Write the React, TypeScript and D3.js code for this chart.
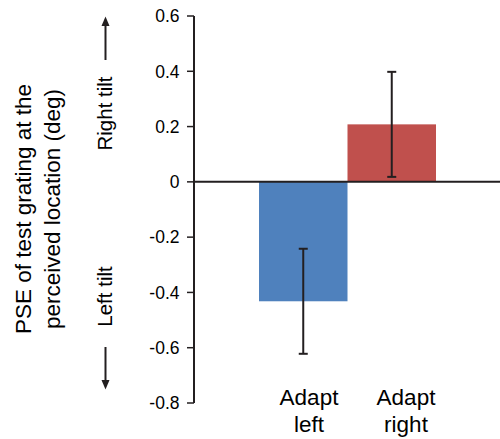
import React from "react";
import * as d3 from "d3";

const categories = ["Adapt left", "Adapt right"];
const labelLines = [["Adapt", "left"], ["Adapt", "right"]];
const values = [-0.432, 0.208];
const errors = [0.19, 0.19];
const colors = ["#4F81BD", "#C0504D"];
const yTicks = [0.6, 0.4, 0.2, 0, -0.2, -0.4, -0.6, -0.8];
const yTickLabels = ["0.6", "0.4", "0.2", "0", "-0.2", "-0.4", "-0.6", "-0.8"];
const yTitle = ["PSE of test grating at the", "perceived location (deg)"];
const dirLabels = ["Right tilt", "Left tilt"];

const W = 500;
const H = 439;
const FONT = "'Liberation Sans', Arial, Helvetica, sans-serif";
const INK = "#231f20";

export default function App() {
  const y = d3.scaleLinear().domain([-0.8, 0.6]).range([403, 16]);
  const x = d3.scaleBand<string>().domain(categories).range([259, 436]).paddingInner(0).paddingOuter(0);
  const xl = d3.scalePoint<string>().domain(categories).range([309, 406]);
  const axisX = 194;
  const cap = 4.5;

  return (
    <svg
      width={W}
      height={H}
      style={{ position: "absolute", left: 0, top: 0, background: "#fff" }}
      fontFamily={FONT}
    >
      {/* bars */}
      {categories.map((c, i) => (
        <rect
          key={c}
          x={x(c)}
          width={x.bandwidth()}
          y={Math.min(y(values[i]), y(0))}
          height={Math.abs(y(values[i]) - y(0))}
          fill={colors[i]}
        />
      ))}
      {/* error bars */}
      {categories.map((c, i) => {
        const cx = (x(c) as number) + x.bandwidth() / 2;
        const y1 = y(values[i] + errors[i]);
        const y2 = y(values[i] - errors[i]);
        return (
          <g key={c + "e"} stroke={INK} strokeWidth={2}>
            <line x1={cx} x2={cx} y1={y1} y2={y2} />
            <line x1={cx - cap} x2={cx + cap} y1={y1} y2={y1} />
            <line x1={cx - cap} x2={cx + cap} y1={y2} y2={y2} />
          </g>
        );
      })}
      {/* zero line */}
      <line x1={axisX} x2={W} y1={y(0)} y2={y(0)} stroke={INK} strokeWidth={2} />
      {/* y axis */}
      <line x1={axisX} x2={axisX} y1={y(0.6)} y2={y(-0.8)} stroke={INK} strokeWidth={2} />
      {yTicks.map((t, i) => (
        <g key={t}>
          <line x1={axisX - 7} x2={axisX} y1={y(t)} y2={y(t)} stroke={INK} strokeWidth={1.5} />
          <text x={179.5} y={y(t)} dy="0.36em" textAnchor="end" fontSize={17.5} fill="#000">
            {yTickLabels[i]}
          </text>
        </g>
      ))}
      {/* category labels */}
      {categories.map((c, i) => (
        <text key={c + "l"} x={xl(c)} textAnchor="middle" fontSize={22.5} fill="#000">
          <tspan x={xl(c)} y={405}>{labelLines[i][0]}</tspan>
          <tspan x={xl(c)} y={432}>{labelLines[i][1]}</tspan>
        </text>
      ))}
      {/* y title */}
      <text transform="translate(31,209) rotate(-90)" textAnchor="middle" fontSize={22.5} fill="#000">
        {yTitle[0]}
      </text>
      <text transform="translate(60,209) rotate(-90)" textAnchor="middle" fontSize={22.5} fill="#000">
        {yTitle[1]}
      </text>
      {/* direction labels */}
      <text transform="translate(112,113.5) rotate(-90)" textAnchor="middle" fontSize={20.5} fill="#000">
        {dirLabels[0]}
      </text>
      <text transform="translate(112,296.5) rotate(-90)" textAnchor="middle" fontSize={20.5} fill="#000">
        {dirLabels[1]}
      </text>
      {/* arrows */}
      <line x1={105.5} x2={105.5} y1={60} y2={24} stroke={INK} strokeWidth={2} />
      <path d="M101.5,26 L105.5,16.5 L109.5,26 Z" fill={INK} />
      <line x1={105.5} x2={105.5} y1={347} y2={382} stroke={INK} strokeWidth={2} />
      <path d="M101.5,380 L105.5,389.5 L109.5,380 Z" fill={INK} />
    </svg>
  );
}
